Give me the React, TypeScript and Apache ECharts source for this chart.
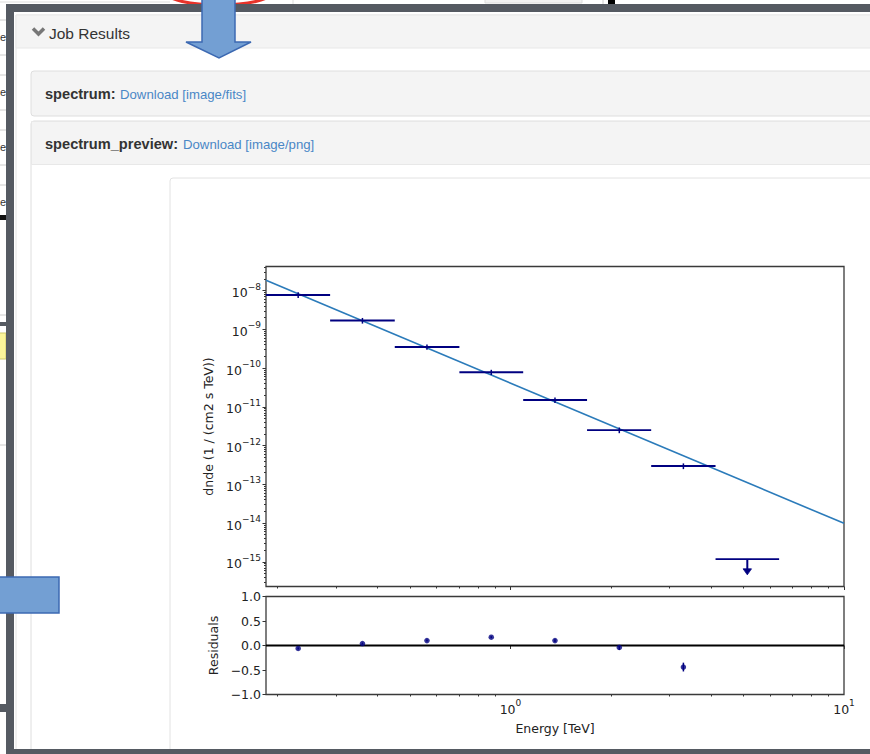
import React, { useEffect, useRef } from "react";
import * as echarts from "echarts";

// ---------- data ----------
const energyCenter = [0.231, 0.36, 0.562, 0.876, 1.36, 2.12, 3.3, 5.13];
const energyMin = [0.185, 0.288, 0.45, 0.703, 1.092, 1.697, 2.642, 4.12];
const energyMax = [0.288, 0.45, 0.703, 1.092, 1.697, 2.642, 4.12, 6.39];
const dnde = [7.7e-9, 1.68e-9, 3.5e-10, 7.8e-11, 1.5e-11, 2.5e-12, 2.96e-13, 1.17e-15];
const dndeErr = [1.3e-9, 2.8e-10, 5.5e-11, 1.2e-11, 2.4e-12, 4.2e-13, 5e-14, 0];
const isUpperLimit = [false, false, false, false, false, false, false, true];
const upperLimitArrowEnd = [0, 0, 0, 0, 0, 0, 0, 4.6e-16];

const modelEnergy = [0.185, 10];
const modelDnde = [1.84e-8, 9.8e-15];

const residual = [-0.06, 0.04, 0.1, 0.17, 0.1, -0.04, -0.44];
const residualErr = [0.02, 0.02, 0.02, 0.02, 0.03, 0.05, 0.09];

const xRange = [0.185, 10];
const yRange = [2.3e-16, 4.17e-8];
const residualRange = [-1, 1];

const xMajorTicks = [1, 10];
const yMajorTicks = [1e-15, 1e-14, 1e-13, 1e-12, 1e-11, 1e-10, 1e-9, 1e-8];
const minorMultipliers = [2, 3, 4, 5, 6, 7, 8, 9];
const xMinorDecades = [0.1, 1];
const yMinorDecades = [1e-16, 1e-15, 1e-14, 1e-13, 1e-12, 1e-11, 1e-10, 1e-9, 1e-8];

// ---------- helpers ----------
const FONT = "DejaVu Sans";
const UI_FONT = "Liberation Sans";
const NAVY = "#000080";

const buildMinor = (decades: number[], lo: number, hi: number) => {
  const out: number[] = [];
  decades.forEach((d) => minorMultipliers.forEach((m) => {
    const v = +(m * d).toPrecision(6);
    if (v >= lo && v <= hi) out.push(v);
  }));
  return out;
};
const xMinorTicks = buildMinor(xMinorDecades, xRange[0], xRange[1]);
const yMinorTicks = buildMinor(yMinorDecades, yRange[0], yRange[1]);

const powLabel = (v: number) => {
  const e = Math.round(Math.log10(v));
  const s = e < 0 ? "\u2212" + String(-e) : String(e);
  return `{b|10}{s|${s}}`;
};
const powRich = {
  b: { fontSize: 12.5, fontFamily: FONT, color: "#222", lineHeight: 17, verticalAlign: "bottom" },
  s: { fontSize: 9, fontFamily: FONT, color: "#222", lineHeight: 9, verticalAlign: "top" },
};

const tickStyle = { color: "#333", width: 1 };

export default function App() {
  const ref = useRef<HTMLDivElement>(null);

  useEffect(() => {
    if (!ref.current) return;
    const chart = echarts.init(ref.current, null, { renderer: "svg", width: 870, height: 754 });

    const fluxData = energyCenter
      .map((e, i) => ({ e, i }))
      .filter(({ i }) => !isUpperLimit[i])
      .map(({ e, i }) => [e, energyMin[i], energyMax[i], dnde[i], dnde[i] - dndeErr[i], dnde[i] + dndeErr[i]]);
    const ulData = energyCenter
      .map((e, i) => ({ e, i }))
      .filter(({ i }) => isUpperLimit[i])
      .map(({ e, i }) => [e, energyMin[i], energyMax[i], dnde[i], upperLimitArrowEnd[i]]);
    const residData = residual.map((r, i) => [energyCenter[i], r, r - residualErr[i], r + residualErr[i]]);

    const panelGray = "#f4f4f4";
    const borderGray = "#dedede";
    const linkBlue = "#4a87c6";
    const frameGray = "#555a62";

    const graphics: any[] = [
      // background page (behind frame)
      { type: "rect", shape: { x: 0, y: 0, width: 870, height: 754 }, style: { fill: "#fff" }, silent: true },
      { type: "line", shape: { x1: 0, y1: 2, x2: 170, y2: 2 }, style: { stroke: "#ddd", lineWidth: 1 } },
      { type: "rect", shape: { x: 485, y: -2, width: 97, height: 5 }, style: { fill: "#f2f2f2", stroke: "#ddd", lineWidth: 1 } },
      { type: "line", shape: { x1: 293, y1: 0, x2: 293, y2: 4 }, style: { stroke: "#ddd", lineWidth: 1 } },
      { type: "line", shape: { x1: 603, y1: 0, x2: 603, y2: 4 }, style: { stroke: "#ccc", lineWidth: 1 } },
      { type: "rect", shape: { x: 608, y: 0, width: 7, height: 6 }, style: { fill: "#000" } },
      { type: "ellipse", shape: { cx: 219, cy: -7, rx: 52, ry: 12 }, style: { fill: "none", stroke: "#e8332a", lineWidth: 3 } },
      ...[20, 55, 75, 110, 130, 165, 185, 315, 445].map((y) => ({
        type: "line", shape: { x1: 0, y1: y, x2: 6, y2: y }, style: { stroke: "#ccc", lineWidth: 1 },
      })),
      ...[37, 92, 147, 202].map((y) => ({
        type: "text", x: 0, y, style: { text: "e", fontSize: 11, fontFamily: UI_FONT, fill: "#333", verticalAlign: "middle" },
      })),
      { type: "rect", shape: { x: 0, y: 215, width: 6, height: 5 }, style: { fill: "#111" } },
      { type: "rect", shape: { x: 0, y: 322, width: 6, height: 4 }, style: { fill: frameGray } },
      { type: "rect", shape: { x: 0, y: 704, width: 6, height: 8 }, style: { fill: frameGray } },
      { type: "rect", shape: { x: -1, y: 333, width: 7, height: 26 }, style: { fill: "#fbf59a", stroke: "#cfc96a", lineWidth: 1 } },

      // dark frame of the overlaid window
      { type: "rect", shape: { x: 6, y: 4, width: 880, height: 760 }, style: { fill: frameGray } },
      { type: "rect", shape: { x: 14, y: 12, width: 870, height: 737 }, style: { fill: "#fff" } },

      // Job Results panel
      { type: "rect", shape: { x: 16, y: 15, width: 870, height: 760 }, style: { fill: "#fff", stroke: "#e4e4e4", lineWidth: 1 } },
      { type: "rect", shape: { x: 16, y: 15, width: 870, height: 33 }, style: { fill: panelGray, stroke: "#e8e8e8", lineWidth: 1 } },
      { type: "polyline", shape: { points: [[33, 28.5], [38.5, 34], [44, 28.5]] }, style: { stroke: "#777", lineWidth: 3.5, fill: "none" } },
      { type: "text", x: 49, y: 33, style: { text: "Job Results", fontSize: 15.5, fontFamily: UI_FONT, fill: "#333", verticalAlign: "middle" } },

      // spectrum panel
      { type: "rect", shape: { x: 31, y: 71, width: 870, height: 45, r: 3 }, style: { fill: panelGray, stroke: borderGray, lineWidth: 1 } },
      { type: "text", x: 45, y: 94, style: { text: "spectrum:", fontSize: 14.6, fontWeight: "bold", fontFamily: UI_FONT, fill: "#333", verticalAlign: "middle" } },
      { type: "text", x: 120, y: 94, style: { text: "Download [image/fits]", fontSize: 13.2, fontFamily: UI_FONT, fill: linkBlue, verticalAlign: "middle" } },

      // spectrum_preview panel
      { type: "rect", shape: { x: 31, y: 121, width: 870, height: 700, r: 3 }, style: { fill: "#fff", stroke: borderGray, lineWidth: 1 } },
      { type: "rect", shape: { x: 31.5, y: 121.5, width: 869, height: 43 }, style: { fill: panelGray, stroke: "#e8e8e8", lineWidth: 1 } },
      { type: "text", x: 45, y: 144, style: { text: "spectrum_preview:", fontSize: 14.6, fontWeight: "bold", fontFamily: UI_FONT, fill: "#333", verticalAlign: "middle" } },
      { type: "text", x: 183, y: 144, style: { text: "Download [image/png]", fontSize: 13.2, fontFamily: UI_FONT, fill: linkBlue, verticalAlign: "middle" } },

      // image box
      { type: "rect", shape: { x: 170, y: 178, width: 800, height: 700, r: 3 }, style: { fill: "#fff", stroke: "#e2e2e2", lineWidth: 1 } },

      // bottom edge of the dark frame (over the panels)
      { type: "rect", shape: { x: 6, y: 749, width: 880, height: 10 }, style: { fill: frameGray } },

      // annotations on top
      {
        type: "polygon", z: 100,
        shape: { points: [[202, -3], [235, -3], [235, 42], [251, 42], [219, 58], [186, 42], [202, 42]] },
        style: { fill: "#739fd3", stroke: "#3c69b2", lineWidth: 1.5 },
      },
      { type: "rect", z: 100, shape: { x: -2, y: 577, width: 61, height: 36 }, style: { fill: "#739fd3", stroke: "#3c69b2", lineWidth: 1.5 } },
    ];

    const option: any = {
      animation: false,
      backgroundColor: "#fff",
      textStyle: { fontFamily: FONT },
      graphic: { elements: graphics },
      grid: [
        { left: 266, top: 266.5, width: 578, height: 320, show: true, borderColor: "#3a3a3a", borderWidth: 1.3, backgroundColor: "transparent", z: 3 },
        { left: 266, top: 596.5, width: 578, height: 98, show: true, borderColor: "#3a3a3a", borderWidth: 1.3, backgroundColor: "transparent", z: 3 },
      ],
      xAxis: [
        {
          type: "log", gridIndex: 0, position: "bottom", min: xRange[0], max: xRange[1],
          axisLine: { show: false }, splitLine: { show: false },
          axisTick: { show: true, customValues: xMajorTicks, length: 3.5, lineStyle: tickStyle },
          axisLabel: { show: false },
        },
        {
          type: "log", gridIndex: 0, position: "bottom", min: xRange[0], max: xRange[1],
          axisLine: { show: false }, splitLine: { show: false },
          axisTick: { show: true, customValues: xMinorTicks, length: 2, lineStyle: tickStyle },
          axisLabel: { show: false },
        },
        {
          type: "log", gridIndex: 1, position: "bottom", min: xRange[0], max: xRange[1],
          axisLine: { show: false }, splitLine: { show: false },
          axisTick: { show: true, customValues: xMajorTicks, length: 3.5, lineStyle: tickStyle },
          axisLabel: { customValues: xMajorTicks, formatter: powLabel, rich: powRich, margin: 4 },
          name: "Energy [TeV]", nameLocation: "middle", nameGap: 27,
          nameTextStyle: { fontSize: 12.5, fontFamily: FONT, color: "#222" },
        },
        {
          type: "log", gridIndex: 1, position: "bottom", min: xRange[0], max: xRange[1],
          axisLine: { show: false }, splitLine: { show: false },
          axisTick: { show: true, customValues: xMinorTicks, length: 2, lineStyle: tickStyle },
          axisLabel: { show: false },
        },
      ],
      yAxis: [
        {
          type: "log", gridIndex: 0, position: "left", min: yRange[0], max: yRange[1],
          axisLine: { show: false }, splitLine: { show: false },
          axisTick: { show: true, customValues: yMajorTicks, length: 3.5, lineStyle: tickStyle },
          axisLabel: { customValues: yMajorTicks, formatter: powLabel, rich: powRich, margin: 5, align: "right" },
          name: "dnde (1 / (cm2 s TeV))", nameLocation: "middle", nameGap: 50,
          nameTextStyle: { fontSize: 12.5, fontFamily: FONT, color: "#222" },
        },
        {
          type: "log", gridIndex: 0, position: "left", min: yRange[0], max: yRange[1],
          axisLine: { show: false }, splitLine: { show: false },
          axisTick: { show: true, customValues: yMinorTicks, length: 2, lineStyle: tickStyle },
          axisLabel: { show: false },
        },
        {
          type: "value", gridIndex: 1, position: "left", min: residualRange[0], max: residualRange[1], interval: 0.5,
          axisLine: { show: false }, splitLine: { show: false },
          axisTick: { show: true, length: 3.5, lineStyle: tickStyle },
          axisLabel: {
            fontSize: 12.5, fontFamily: FONT, color: "#222", margin: 5,
            formatter: (v: number) => v.toFixed(1).replace("-", "\u2212"),
          },
          name: "Residuals", nameLocation: "middle", nameGap: 44,
          nameTextStyle: { fontSize: 12.5, fontFamily: FONT, color: "#222" },
        },
      ],
      series: [
        {
          type: "line", name: "model", xAxisIndex: 0, yAxisIndex: 0,
          data: modelEnergy.map((e, i) => [e, modelDnde[i]]),
          showSymbol: false, symbol: "none",
          lineStyle: { color: "#2b7bba", width: 1.6 }, z: 4,
        },
        {
          type: "custom", name: "flux points", xAxisIndex: 0, yAxisIndex: 0,
          data: fluxData, encode: { x: [0, 1, 2], y: [3, 4, 5] }, z: 5,
          renderItem: (params: any, api: any) => {
            const e = api.value(0), lo = api.value(1), hi = api.value(2);
            const f = api.value(3), fl = api.value(4), fh = api.value(5);
            const pL = api.coord([lo, f]), pR = api.coord([hi, f]);
            const pT = api.coord([e, fh]), pB = api.coord([e, fl]);
            return {
              type: "group",
              children: [
                { type: "line", shape: { x1: pL[0], y1: pL[1], x2: pR[0], y2: pR[1] }, style: { stroke: NAVY, lineWidth: 1.9 } },
                { type: "line", shape: { x1: pT[0], y1: pT[1], x2: pB[0], y2: pB[1] }, style: { stroke: NAVY, lineWidth: 1.5 } },
              ],
            };
          },
        },
        {
          type: "custom", name: "upper limit", xAxisIndex: 0, yAxisIndex: 0,
          data: ulData, encode: { x: [0, 1, 2], y: [3, 4] }, z: 5,
          renderItem: (params: any, api: any) => {
            const e = api.value(0), lo = api.value(1), hi = api.value(2);
            const f = api.value(3), fe = api.value(4);
            const pL = api.coord([lo, f]), pR = api.coord([hi, f]);
            const pT = api.coord([e, f]), pB = api.coord([e, fe]);
            return {
              type: "group",
              children: [
                { type: "line", shape: { x1: pL[0], y1: pL[1], x2: pR[0], y2: pR[1] }, style: { stroke: NAVY, lineWidth: 1.9 } },
                { type: "line", shape: { x1: pT[0], y1: pT[1], x2: pB[0], y2: pB[1] - 5 }, style: { stroke: NAVY, lineWidth: 2 } },
                { type: "polygon", shape: { points: [[pB[0] - 4.2, pB[1] - 6], [pB[0] + 4.2, pB[1] - 6], [pB[0], pB[1]]] }, style: { fill: NAVY, stroke: NAVY, lineWidth: 0.8 } },
              ],
            };
          },
        },
        {
          type: "line", name: "zero", xAxisIndex: 2, yAxisIndex: 2,
          data: xRange.map((x) => [x, 0]), showSymbol: false, symbol: "none",
          lineStyle: { color: "#000", width: 1.8 }, z: 4,
        },
        {
          type: "custom", name: "residual errors", xAxisIndex: 2, yAxisIndex: 2,
          data: residData, encode: { x: 0, y: [1, 2, 3] }, z: 5,
          renderItem: (params: any, api: any) => {
            const e = api.value(0);
            const pT = api.coord([e, api.value(3)]), pB = api.coord([e, api.value(2)]);
            return { type: "line", shape: { x1: pT[0], y1: pT[1], x2: pB[0], y2: pB[1] }, style: { stroke: NAVY, lineWidth: 1.5 } };
          },
        },
        {
          type: "scatter", name: "residuals", xAxisIndex: 2, yAxisIndex: 2,
          data: residual.map((r, i) => [energyCenter[i], r]),
          symbol: "circle", symbolSize: 5.5, itemStyle: { color: NAVY }, z: 6,
        },
      ],
    };

    chart.setOption(option);
    return () => chart.dispose();
  }, []);

  return (
    <div
      ref={ref}
      style={{ position: "absolute", left: 0, top: 0, width: 870, height: 754, background: "#fff" }}
    />
  );
}
